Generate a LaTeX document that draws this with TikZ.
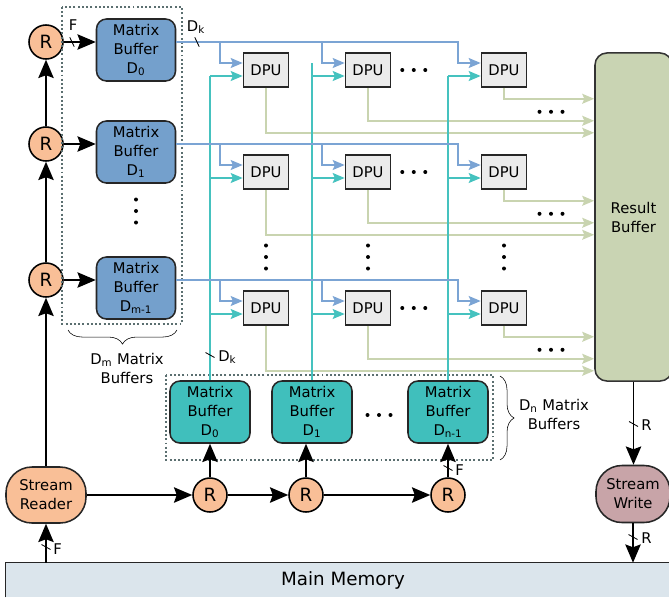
\documentclass[tikz,border=0pt]{standalone}
\usepackage{fontspec}
\setmainfont{DejaVu Sans}
\usepackage{tikz}
\usetikzlibrary{calc,arrows.meta,positioning,decorations.pathreplacing}
\definecolor{bufblue}{HTML}{74A0CC}
\definecolor{lineblue}{HTML}{7BA4D4}
\definecolor{bufteal}{HTML}{40BFBC}
\definecolor{lineteal}{HTML}{45C2BF}
\definecolor{rorange}{HTML}{F9BF97}
\definecolor{dpugray}{HTML}{EBEBEB}
\definecolor{resgreen}{HTML}{C9D4B3}
\definecolor{linegreen}{HTML}{C9D4B0}
\definecolor{wrpink}{HTML}{C8A4A8}
\definecolor{memblue}{HTML}{DBE5EC}
\definecolor{dotc}{HTML}{5B6F70}
\newcommand{\pxu}{0.025cm}
\newcommand{\dsub}[1]{\textsubscript{#1}}
\newcommand{\hdotrow}[1]{\foreach \dd in {-1,0,1}{\fill ($(#1)+(\dd*11.5,0)$) circle (2);}}
\newcommand{\vdotrow}[1]{\foreach \dd in {-1,0,1}{\fill ($(#1)+(0,\dd*11.5)$) circle (2);}}
\newcommand{\hcut}[2]{\draw[cut] ($(#1,#2)+(-2.2,-4.7)$) -- ++(4.4,9.4);}
\newcommand{\vcut}[2]{\draw[cut] ($(#1,#2)+(-4.5,-2.5)$) -- ++(9,5);}
\tikzset{
  txt/.style={font=\fontsize{10.5}{13.5}\selectfont,align=center,inner sep=0pt},
  reg/.style={circle,draw=black,line width=1.1pt,fill=rorange,minimum size=0.85cm,inner sep=0pt,font=\fontsize{13}{15}\selectfont},
  mbuf/.style={txt,draw=black!85,line width=1.1pt,fill=bufblue,rounded corners=0.25cm,minimum width=1.975cm,minimum height=1.55cm},
  nbuf/.style={mbuf,fill=bufteal,minimum width=2cm},
  dpu/.style={txt,draw=black!85,line width=1.1pt,fill=dpugray,minimum width=1.125cm,minimum height=0.85cm},
  resbox/.style={txt,draw=black!80,line width=1.1pt,fill=resgreen,rounded corners=0.3cm,minimum width=1.925cm,minimum height=8.2cm},
  stream/.style={txt,draw=black!85,line width=1.1pt,rounded corners=0.65cm,minimum width=2cm,minimum height=1.4cm},
  memb/.style={fill=memblue,minimum width=16.85cm,minimum height=0.85cm,inner sep=0pt,font=\fontsize{13}{15}\selectfont},
  blk/.style={-{Stealth[length=13pt,width=11pt,inset=2pt]},line width=1pt},
  cin/.style={-{Stealth[length=8.5pt,width=7pt,inset=1.5pt]}},
  bline/.style={line width=1.4pt,lineblue},
  tline/.style={line width=1.4pt,lineteal},
  gline/.style={line width=1.4pt,linegreen,cin},
  grp/.style={dotc,line width=1.3pt,dash pattern=on 1.4pt off 1.6pt},
  cut/.style={line width=0.6pt},
  lbl/.style={txt},
  brc/.style={decorate,decoration={brace,amplitude=10pt}}
}
\begin{document}
\begin{tikzpicture}[x=\pxu,y=-\pxu]
\useasboundingbox (0,0) rectangle (669,599);

% memory, stream units, result buffer
\node[memb] (mem) at (343,580) {Main Memory};
\draw[line width=1.1pt,black!85] (mem.south west) |- (mem.north east);
\node[stream,fill=rorange] (reader) at (46,495) {Stream\\Reader};
\node[stream,fill=wrpink,minimum width=1.85cm,minimum height=1.425cm] (writer) at (633,494) {Stream\\Write};
\node[resbox] (result) at (633.5,217) {Result\\Buffer};

% row side: registers and matrix buffers
\foreach \i/\ry in {0/42,1/144,2/280}
  \node[reg] (r\i) at (46,\ry) {R};
\node[mbuf] (mb0) at (136,50) {Matrix\\Buffer\\D\dsub{0}};
\node[mbuf] (mb1) at (136,152) {Matrix\\Buffer\\D\dsub{1}};
\node[mbuf] (mb2) at (136,288) {Matrix\\Buffer\\D\dsub{m-1}};
\coordinate (mbd) at (136,211);
\vdotrow{mbd}
\draw[grp] (62,7) rectangle (182,324);
\draw[brc] (177,330) -- (68,330);
\node[lbl] (dmlab) at (127,368) {D\dsub{m} Matrix\\Buffers};

% column side: registers and matrix buffers
\node[nbuf] (nb0) at (210,412) {Matrix\\Buffer\\D\dsub{0}};
\node[nbuf] (nb1) at (312,412) {Matrix\\Buffer\\D\dsub{1}};
\node[nbuf] (nb2) at (448,412) {Matrix\\Buffer\\D\dsub{n-1}};
\coordinate (nbd) at (379,415);
\hdotrow{nbd}
\foreach \i/\cx in {0/210,1/306,2/448}
  \node[reg] (c\i) at (\cx,495) {R};
\draw[grp] (166,375) rectangle (493,460);
\draw[brc] (500,376) -- (500,460);
\node[lbl] (dnlab) at (554,414) {D\dsub{n} Matrix\\Buffers};

% DPU grid
\foreach \c/\cx in {1/266,2/368,3/504}{
  \foreach \r/\ry in {1/70,2/172,3/308}{
    \node[dpu] (d\r\c) at (\cx,\ry) {DPU};
    \coordinate (bi\r\c) at ($(d\r\c.west)+(0,-7)$);
    \coordinate (bx\r\c) at ($(d\r\c.west)+(-22.5,-7)$);
    \coordinate (ti\r\c) at ($(d\r\c.west)+(0,6)$);
  }
  \coordinate (vd\c) at (\cx,257);
  \vdotrow{vd\c}
}

% results to the result buffer
\foreach \r in {1,2,3}{
  \foreach \c/\dy in {1/45,2/33,3/11}{
    \coordinate (go\r\c) at ($(d\r\c.south)+(0,\dy)$);
    \draw[gline] (d\r\c.south) -- (go\r\c) -- (result.west |- go\r\c);
  }
  \coordinate (gd\r) at ($(d\r3.south)+(47,24)$);
  \hdotrow{gd\r}
  \coordinate (hd\r) at ($(d\r2.east)+(22.5,0)$);
  \hdotrow{hd\r}
}

% column operands
\foreach \c/\q/\tp in {1/0/ti11,2/1/bi12,3/2/ti13}{
  \draw[tline] (nb\q.north) -- (nb\q.north |- \tp);
  \foreach \r in {1,2,3}
    \draw[tline,cin] (nb\q.north |- ti\r\c) -- (ti\r\c);
}

% row operands
\foreach \r/\m in {1/0,2/1,3/2}{
  \draw[bline,cin] (mb\m.east |- r\m) -| (bx\r3) -- (bi\r3);
  \foreach \c in {1,2}
    \draw[bline,cin] (bx\r\c |- r\m) -- (bx\r\c) -- (bi\r\c);
}

% stream paths
\draw[blk] (reader |- mem.north) -- (reader.south);
\draw[blk] (reader) -- (r2);
\draw[blk] (r2) -- (r1);
\draw[blk] (r1) -- (r0);
\foreach \i in {0,1,2}
  \draw[blk] (r\i.east) -- (r\i -| mb\i.west);
\draw[blk] (reader) -- (c0);
\draw[blk] (c0) -- (c1);
\draw[blk] (c1) -- (c2);
\draw[blk] (c0) -- (nb0);
\draw[blk] (c1) -- (c1 |- nb1.south);
\draw[blk] (c2) -- (nb2);
\draw[blk] (result.south) -- (result.south |- writer.north);
\draw[blk] (writer) -- (writer |- mem.north);

% bus widths
\hcut{72}{42}
\node[lbl] (fa) at (73,25) {F};
\hcut{197}{42}
\node[lbl] (dka) at (196,27) {D\dsub{k}};
\vcut{210}{355}
\node[lbl,anchor=west] (dkb) at (218,357) {D\dsub{k}};
\vcut{448}{468}
\node[lbl,anchor=west] (fb) at (455,470) {F};
\vcut{46}{547}
\node[lbl,anchor=west] (fc) at (53,549) {F};
\vcut{633.5}{424}
\node[lbl,anchor=west] (ra) at (641,425) {R};
\vcut{633}{537}
\node[lbl,anchor=west] (rb) at (641,538) {R};
\end{tikzpicture}
\end{document}
